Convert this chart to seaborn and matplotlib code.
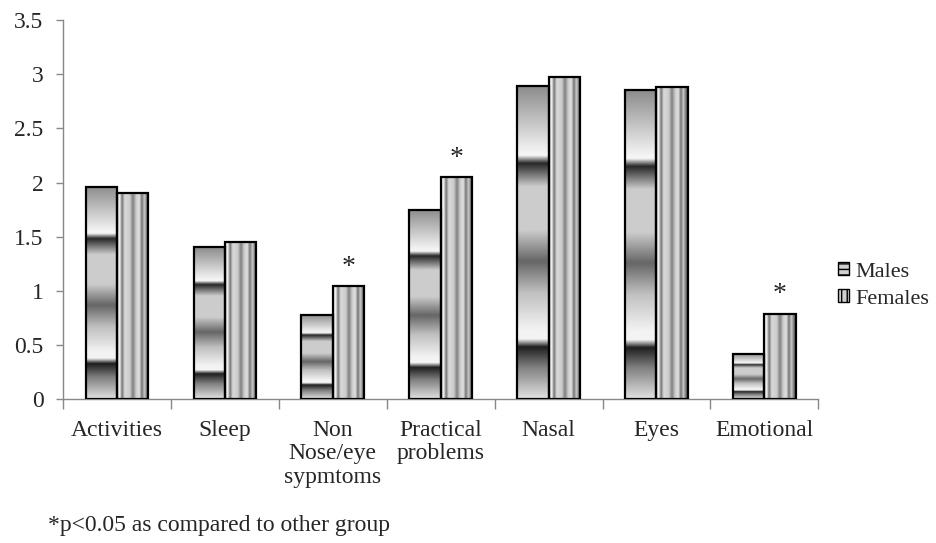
import matplotlib
matplotlib.use("Agg")
import matplotlib.pyplot as plt
import numpy as np
import pandas as pd
import seaborn as sns
from matplotlib.patches import Patch

# data
categories = ["Activities", "Sleep", "Non\nNose/eye\nsypmtoms", "Practical\nproblems",
              "Nasal", "Eyes", "Emotional"]
males = [1.96, 1.40, 0.78, 1.75, 2.89, 2.85, 0.42]
females = [1.90, 1.45, 1.04, 2.05, 2.97, 2.88, 0.79]
significant = [False, False, True, True, False, False, True]

df = pd.DataFrame({
    "Domain": categories * 2,
    "Score": males + females,
    "Group": ["Males"] * len(categories) + ["Females"] * len(categories),
})

sns.set_theme(style="white")
plt.rcParams["font.family"] = ["Liberation Serif", "DejaVu Serif"]

fig = plt.figure(figsize=(9.36, 5.43), dpi=100)
ax = fig.add_axes([0.0673, 0.265, 0.807, 0.698])

sns.barplot(data=df, x="Domain", y="Score", hue="Group", width=0.58,
            gap=0, legend=False, ax=ax, edgecolor="black", linewidth=1.6)

# chrome-like gray shading, as in the original spreadsheet chart
male_stops = [0.0, 0.18, 0.22, 0.245, 0.32, 0.46, 0.56, 0.66, 0.78, 0.81, 0.835, 0.9, 1.0]
male_vals = [0.55, 0.9, 0.97, 0.15, 0.8, 0.8, 0.4, 0.75, 0.95, 0.95, 0.12, 0.5, 0.88]
fem_stops = [0.0, 0.08, 0.16, 0.24, 0.4, 0.5, 0.6, 0.7, 0.78, 0.86, 0.94, 1.0]
fem_vals = [0.8, 0.97, 0.45, 0.85, 0.8, 0.5, 0.8, 0.88, 0.45, 0.8, 0.45, 0.3]
t = np.linspace(0, 1, 200)
male_img = np.interp(t, male_stops, male_vals)[:, None]
fem_img = np.interp(t, fem_stops, fem_vals)[None, :]

for cont, img in zip(ax.containers, [male_img, fem_img]):
    for bar in cont:
        x0, y0 = bar.get_x(), bar.get_y()
        w, h = bar.get_width(), bar.get_height()
        bar.set_facecolor("none")
        bar.set_zorder(3)
        im = ax.imshow(img, cmap="gray", vmin=0, vmax=1, aspect="auto",
                       extent=(x0, x0 + w, y0, y0 + h), origin="upper",
                       interpolation="bilinear", zorder=2)
        im.set_clip_path(bar)

# significance markers
fem_bars = ax.containers[1]
for bar, val, sig in zip(fem_bars, females, significant):
    if sig:
        ax.text(bar.get_x() + bar.get_width() / 2, val + 0.06, "*",
                ha="center", va="bottom", fontsize=20)

ax.set_xlim(-0.5, len(categories) - 0.5)
ax.set_ylim(0, 3.5)
ax.set_yticks(np.arange(0, 3.51, 0.5))
ax.set_yticklabels(["0", "0.5", "1", "1.5", "2", "2.5", "3", "3.5"])
ax.set_xlabel("")
ax.set_ylabel("")

ax.set_xticks(np.arange(-0.5, len(categories), 1), minor=True)
ax.tick_params(axis="x", which="minor", length=7, width=1, color="#888888", direction="out", bottom=True)
ax.tick_params(axis="x", which="major", length=0, pad=15, labelsize=17)
ax.tick_params(axis="y", length=5, width=1, color="#888888", direction="out", left=True, pad=9, labelsize=17)
for lbl in ax.get_xticklabels():
    lbl.set_linespacing(1.15)

for side in ["top", "right"]:
    ax.spines[side].set_visible(False)
for side in ["left", "bottom"]:
    ax.spines[side].set_color("#888888")
    ax.spines[side].set_linewidth(1)

handles = [
    Patch(facecolor="#d0d0d0", edgecolor="black", hatch="---", label="Males"),
    Patch(facecolor="#d0d0d0", edgecolor="black", hatch="|||", label="Females"),
]
ax.legend(handles=handles, loc="center left", bbox_to_anchor=(1.0, 0.3),
          frameon=False, fontsize=16, handlelength=0.5, handleheight=0.5,
          handletextpad=0.25, labelspacing=0.35)

fig.text(0.051, 0.022, "*p<0.05 as compared to other group", fontsize=17)

fig.savefig("out.png", dpi=100)
